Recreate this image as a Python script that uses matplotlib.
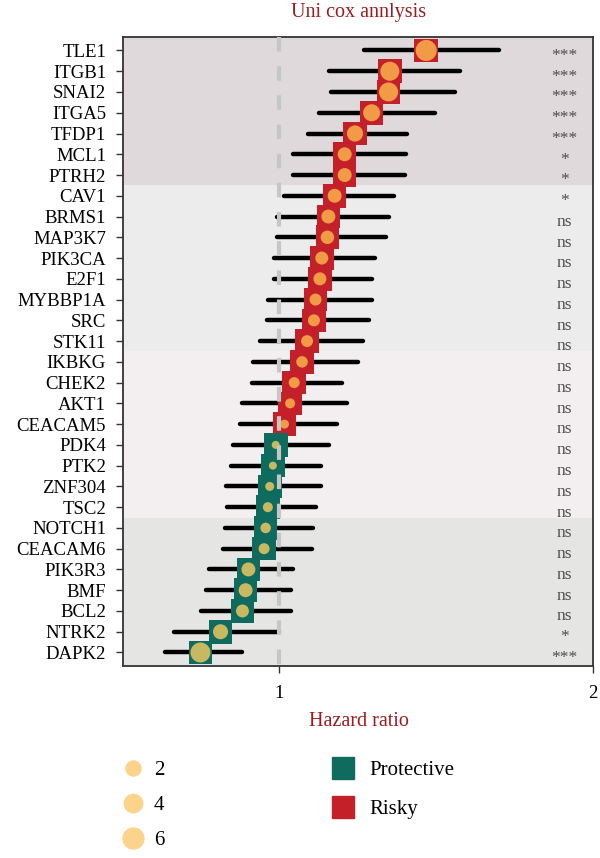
import numpy as np
import matplotlib.pyplot as plt
from matplotlib.lines import Line2D

plt.rcParams['font.family'] = ['Liberation Serif', 'DejaVu Serif']

# univariate cox results, top row first
genes = ['TLE1', 'ITGB1', 'SNAI2', 'ITGA5', 'TFDP1', 'MCL1', 'PTRH2',
         'CAV1', 'BRMS1', 'MAP3K7', 'PIK3CA', 'E2F1', 'MYBBP1A', 'SRC', 'STK11',
         'IKBKG', 'CHEK2', 'AKT1', 'CEACAM5', 'PDK4', 'PTK2', 'ZNF304', 'TSC2',
         'NOTCH1', 'CEACAM6', 'PIK3R3', 'BMF', 'BCL2', 'NTRK2', 'DAPK2']
hr = [1.468, 1.352, 1.348, 1.294, 1.241, 1.208, 1.208,
      1.176, 1.156, 1.153, 1.135, 1.129, 1.115, 1.110, 1.088,
      1.072, 1.047, 1.034, 1.016, 0.988, 0.979, 0.969, 0.963,
      0.956, 0.951, 0.901, 0.892, 0.882, 0.812, 0.748]
ci_low = [1.270, 1.159, 1.164, 1.125, 1.091, 1.042, 1.042,
          1.015, 0.993, 0.993, 0.983, 0.983, 0.962, 0.960, 0.937,
          0.917, 0.913, 0.882, 0.875, 0.852, 0.847, 0.830, 0.832,
          0.827, 0.819, 0.775, 0.767, 0.750, 0.663, 0.635]
ci_high = [1.699, 1.575, 1.561, 1.496, 1.407, 1.404, 1.400,
           1.364, 1.348, 1.339, 1.306, 1.294, 1.294, 1.287, 1.268,
           1.252, 1.199, 1.214, 1.183, 1.158, 1.131, 1.131, 1.115,
           1.107, 1.103, 1.044, 1.036, 1.037, 0.999, 0.880]
neg_log_p = [6.1, 4.45, 4.45, 3.1, 2.6, 1.5, 1.5,
             1.5, 1.5, 1.3, 1.1, 1.1, 0.77, 0.77, 0.75,
             0.63, 0.49, 0.28, 0.12, 0.03, 0.03, 0.12, 0.28,
             0.38, 0.49, 1.5, 1.5, 1.1, 2.0, 5.2]
signif = ['***', '***', '***', '***', '***', '*', '*',
          '*', 'ns', 'ns', 'ns', 'ns', 'ns', 'ns', 'ns',
          'ns', 'ns', 'ns', 'ns', 'ns', 'ns', 'ns', 'ns',
          'ns', 'ns', 'ns', 'ns', 'ns', '*', '***']

band_sizes = [7, 8, 8, 7]
band_colors = ['#e0d9db', '#ececec', '#f3eef0', '#e5e6e4']
legend_sizes = [2, 4, 6]

red = '#c4202a'
teal = '#0e6b5d'
title_red = '#9b1b1e'


def circle_pt(v):
    # diameter in points, area-like scaling
    return (7 + 14.5 * np.sqrt(np.asarray(v, dtype=float) / 6.5)) * 0.72


fig = plt.figure(figsize=(6, 8.58), dpi=100)
ax = fig.add_axes([0.2045, 0.2238, 0.7838, 0.7331])

y = np.arange(len(genes))
top, bottom = -0.65, len(genes) - 1 + 0.65

edges = np.cumsum([0] + band_sizes) - 0.5
edges[0], edges[-1] = top, bottom
for i, c in enumerate(band_colors):
    ax.axhspan(edges[i], edges[i + 1], color=c, lw=0, zorder=0)

ax.hlines(y, ci_low, ci_high, color='black', lw=3.2, capstyle='round', zorder=2)

risky = np.array(hr) > 1
sq_col = np.where(risky, red, teal)
dot_col = np.where(risky, '#f29b47', '#c8b862')
ax.scatter(hr, y, marker='s', s=17 ** 2, c=sq_col, lw=0, zorder=3)
ax.scatter(hr, y, marker='o', s=circle_pt(neg_log_p) ** 2, c=dot_col, lw=0, zorder=4)

ax.plot([1, 1], [top, bottom], color='#c6c6c6', lw=3, ls=(0, (3.5, 3.5)), zorder=5)

for yi, s in zip(y, signif):
    ax.text(1.91, yi + 0.45, s, ha='center', va='baseline', fontsize=12.5, color='#4d4d4d')

ax.set_xlim(0.5, 2.0)
ax.set_ylim(bottom, top)
ax.set_yticks(y)
ax.set_yticklabels(genes)
ax.set_xticks([1, 2])
ax.set_xticklabels(['1', '2'])
ax.tick_params(axis='both', labelsize=13.5, length=5, width=1, pad=7, color='#333333')
ax.tick_params(axis='x', pad=9)
for sp in ax.spines.values():
    sp.set_color('#333333')
    sp.set_linewidth(1.3)

fig.text(0.598, 1 - 13 / 858, 'Uni cox annlysis', ha='center', va='center',
         fontsize=14.5, color=title_red)
fig.text(0.598, 1 - 721 / 858, 'Hazard ratio', ha='center', va='center',
         fontsize=14.5, color=title_red)

size_handles = [Line2D([], [], ls='', marker='o', markersize=circle_pt(v),
                       color='#fbd38b') for v in legend_sizes]
fig.legend(size_handles, [str(v) for v in legend_sizes], loc='upper left',
           bbox_to_anchor=(110 / 600, 1 - 750 / 858), frameon=False, fontsize=15,
           borderpad=0, handlelength=1.2, handletextpad=0.4, labelspacing=0.75)

fill_handles = [Line2D([], [], ls='', marker='s', markersize=16, color=teal),
                Line2D([], [], ls='', marker='s', markersize=16, color=red)]
fig.legend(fill_handles, ['Protective', 'Risky'], loc='upper left',
           bbox_to_anchor=(320 / 600, 1 - 750 / 858), frameon=False, fontsize=15,
           borderpad=0, handlelength=1.2, handletextpad=0.65, labelspacing=0.95)

fig.savefig('out.png', dpi=100)
